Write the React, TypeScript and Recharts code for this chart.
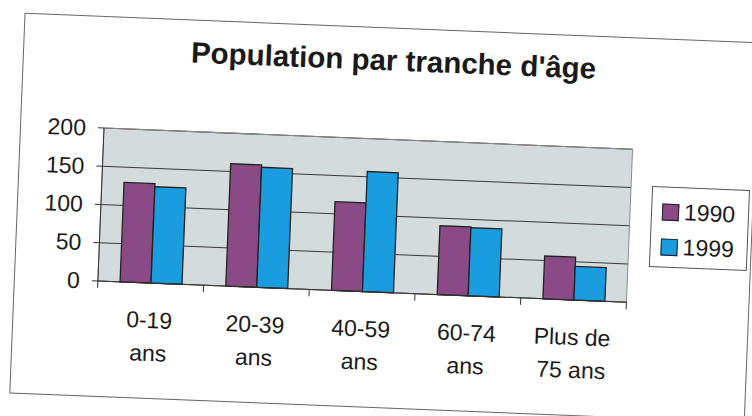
import {
  Bar,
  BarChart,
  CartesianGrid,
  Legend,
  ReferenceArea,
  XAxis,
  YAxis,
} from "recharts";

const CATEGORIES = ["0-19 ans", "20-39 ans", "40-59 ans", "60-74 ans", "Plus de 75 ans"];
const LABEL_LINES = [
  ["0-19", "ans"],
  ["20-39", "ans"],
  ["40-59", "ans"],
  ["60-74", "ans"],
  ["Plus de", "75 ans"],
];
const POP_1990 = [130, 160, 116, 90, 56];
const POP_1999 = [126, 157, 157, 89, 44];
const Y_TICKS = [0, 50, 100, 150, 200];

const data = CATEGORIES.map((name, i) => ({
  name,
  y1990: POP_1990[i],
  y1999: POP_1999[i],
}));

// plot box (unrotated page coords)
const PLOT_LEFT = 101;
const PLOT_RIGHT = 630;
const PLOT_TOP = 139;
const PLOT_BOTTOM = 292;
const Y_AXIS_W = 60;
const X_AXIS_H = 90;
const BAND = (PLOT_RIGHT - PLOT_LEFT) / CATEGORIES.length;

const FONT = "'Liberation Sans', Arial, sans-serif";

function XTick(props: any) {
  const { x, y, payload } = props;
  const i = CATEGORIES.indexOf(payload.value);
  const lines = LABEL_LINES[i] || [payload.value, ""];
  return (
    <g>
      {i === 0 && (
        <line x1={x - BAND / 2} x2={x - BAND / 2} y1={y} y2={y + 7} stroke="#333" />
      )}
      <line x1={x + BAND / 2} x2={x + BAND / 2} y1={y} y2={y + 7} stroke="#333" />
      <text x={x} y={y + 45} textAnchor="middle" fontSize={23} fill="#1a1a1a">
        <tspan x={x}>{lines[0]}</tspan>
        <tspan x={x} dy={33}>
          {lines[1]}
        </tspan>
      </text>
    </g>
  );
}

function LegendBox(props: any) {
  const items = props.payload || [];
  return (
    <div
      style={{
        width: 98,
        height: 81,
        boxSizing: "border-box",
        border: "1px solid #555",
        background: "#fff",
        paddingTop: 9,
      }}
    >
      {items.map((it: any) => (
        <div
          key={it.value}
          style={{
            display: "flex",
            alignItems: "center",
            height: 39,
            marginTop: -4,
            paddingLeft: 10,
          }}
        >
          <span
            style={{
              width: 17,
              height: 17,
              boxSizing: "border-box",
              background: it.color,
              border: "1.5px solid #222",
              marginRight: 5,
            }}
          />
          <span style={{ fontSize: 23, color: "#1a1a1a", lineHeight: "23px" }}>
            {it.value}
          </span>
        </div>
      ))}
    </div>
  );
}

export default function App() {
  return (
    <div
      style={{
        position: "fixed",
        left: 0,
        top: 0,
        width: 752,
        height: 416,
        overflow: "hidden",
        background: "#fff",
      }}
    >
      <div
        style={{
          position: "absolute",
          left: 0,
          top: 0,
          width: 752,
          height: 416,
          transform: "rotate(2.3deg)",
          transformOrigin: "376px 208px",
          fontFamily: FONT,
        }}
      >
        <div
          style={{
            position: "absolute",
            left: 17,
            top: 27,
            width: 736,
            height: 381,
            boxSizing: "border-box",
            border: "1px solid #666",
          }}
        />
        <div
          style={{
            position: "absolute",
            left: 185,
            top: 45,
            width: 400,
            textAlign: "center",
            fontSize: 29.5,
            lineHeight: "29.5px",
            fontWeight: "bold",
            color: "#1a1a1a",
            whiteSpace: "nowrap",
          }}
        >
          Population par tranche d'âge
        </div>
        <div style={{ position: "absolute", left: 0, top: 0 }}>
          <BarChart
            width={752}
            height={416}
            data={data}
            margin={{
              top: PLOT_TOP,
              right: 752 - PLOT_RIGHT,
              bottom: 416 - PLOT_BOTTOM - X_AXIS_H,
              left: PLOT_LEFT - Y_AXIS_W,
            }}
            barCategoryGap="21%"
            barGap={0}
          >
            <CartesianGrid vertical={false} stroke="#3a3a3a" fill="#d3dbdc" />
            <ReferenceArea y1={0} y2={200} fill="none" stroke="#8a8a8a" ifOverflow="visible" />
            <XAxis
              dataKey="name"
              height={X_AXIS_H}
              interval={0}
              tickLine={false}
              tickSize={0}
              tickMargin={0}
              axisLine={{ stroke: "#333" }}
              tick={<XTick />}
            />
            <YAxis
              width={Y_AXIS_W}
              domain={[0, 200]}
              ticks={Y_TICKS}
              interval={0}
              tickSize={6}
              tickMargin={12}
              axisLine={{ stroke: "#333" }}
              tickLine={{ stroke: "#333" }}
              tick={{ fontSize: 23, fill: "#1a1a1a" }}
            />
            <Legend
              layout="horizontal"
              verticalAlign="middle"
              align="center"
              wrapperStyle={{ left: 651, top: 175, width: 98, height: 81 }}
              content={<LegendBox />}
            />
            <Bar
              dataKey="y1990"
              name="1990"
              fill="#8a4a86"
              stroke="#222"
              strokeWidth={1.3}
              isAnimationActive={false}
            />
            <Bar
              dataKey="y1999"
              name="1999"
              fill="#1a9ddf"
              stroke="#222"
              strokeWidth={1.3}
              isAnimationActive={false}
            />
          </BarChart>
        </div>
      </div>
    </div>
  );
}
